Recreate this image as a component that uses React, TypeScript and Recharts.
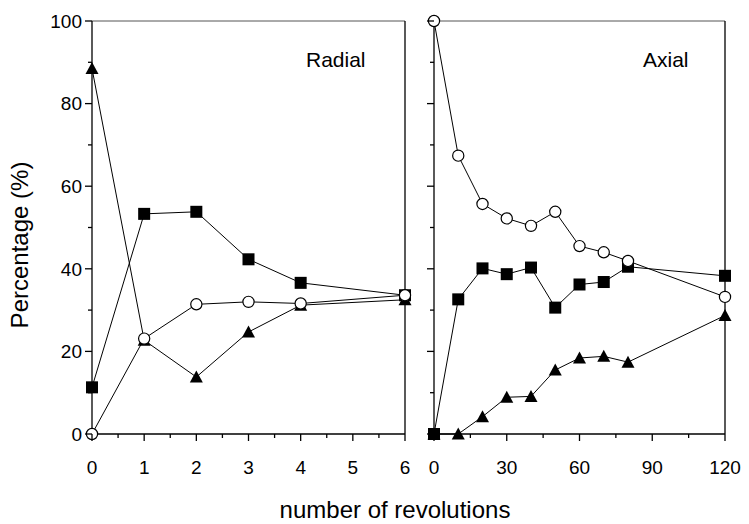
import React from 'react';
import { Line, LineChart, ReferenceLine, XAxis, YAxis } from 'recharts';

// Radial panel (revolutions 0-6)
const radialRevs = [0, 1, 2, 3, 4, 6];
const radialSquare = [11.3, 53.3, 53.8, 42.3, 36.6, 33.6];
const radialCircle = [0, 23.1, 31.4, 32.0, 31.6, 33.6];
const radialTriangle = [88.5, 22.7, 13.8, 24.7, 31.2, 32.5];

// Axial panel (revolutions 0-120)
const axialRevs = [0, 10, 20, 30, 40, 50, 60, 70, 80, 120];
const axialSquare = [0, 32.6, 40.1, 38.7, 40.3, 30.6, 36.2, 36.8, 40.5, 38.3];
const axialCircle = [100, 67.4, 55.7, 52.2, 50.4, 53.8, 45.5, 44.0, 41.9, 33.2];
const axialTriangle = [0, 0, 4.2, 8.9, 9.1, 15.5, 18.4, 18.8, 17.4, 28.7];

// ticks
const yTicks = [0, 10, 20, 30, 40, 50, 60, 70, 80, 90, 100];
const yMajor = [0, 20, 40, 60, 80, 100];
const radialTicks = [0, 0.5, 1, 1.5, 2, 2.5, 3, 3.5, 4, 4.5, 5, 5.5, 6];
const radialMajor = [0, 1, 2, 3, 4, 5, 6];
const axialTicks = [0, 15, 30, 45, 60, 75, 90, 105, 120];
const axialMajor = [0, 30, 60, 90, 120];

const radialData = radialRevs.map((x, i) => ({
  x,
  square: radialSquare[i],
  circle: radialCircle[i],
  triangle: radialTriangle[i]
}));

const axialData = axialRevs.map((x, i) => ({
  x,
  square: axialSquare[i],
  circle: axialCircle[i],
  triangle: axialTriangle[i]
}));

const FONT = '"Liberation Sans", Arial, sans-serif';
const AXIS_W = 1.3;
const Y_MARGIN = 10;

function YTick(props: any) {
  const { x, y, payload, showLabel } = props;
  const v = payload.value;
  const major = yMajor.includes(v);
  const ax = x + Y_MARGIN;
  return (
    <g>
      <line x1={ax - (major ? 7 : 4)} x2={ax} y1={y} y2={y} stroke="#000" strokeWidth={AXIS_W} />
      {showLabel && major && (
        <text x={x} y={y} dy="0.36em" textAnchor="end" fontSize={19} fontFamily={FONT} fill="#000">
          {v}
        </text>
      )}
    </g>
  );
}

function XTick(props: any) {
  const { x, y, payload, majors } = props;
  const v = payload.value;
  const major = majors.includes(v);
  return (
    <g>
      <line x1={x} x2={x} y1={y} y2={y + (major ? 7 : 4)} stroke="#000" strokeWidth={AXIS_W} />
      {major && (
        <text x={x} y={y + 40} textAnchor="middle" fontSize={19} fontFamily={FONT} fill="#000">
          {v}
        </text>
      )}
    </g>
  );
}

const squareDot = (p: any) => (
  <rect key={`s${p.index}`} x={p.cx - 6} y={p.cy - 6} width={12} height={12} fill="#000" />
);
const circleDot = (p: any) => (
  <circle key={`c${p.index}`} cx={p.cx} cy={p.cy} r={5.6} fill="#fff" stroke="#000" strokeWidth={1.2} />
);
const triangleDot = (p: any) => (
  <path
    key={`t${p.index}`}
    d={`M${p.cx},${p.cy - 6.5} L${p.cx + 6.5},${p.cy + 5.5} L${p.cx - 6.5},${p.cy + 5.5} Z`}
    fill="#000"
  />
);

function Panel({
  data,
  width,
  yWidth,
  right,
  xMax,
  ticks,
  majors,
  showYLabels
}: {
  data: any[];
  width: number;
  yWidth: number;
  right: number;
  xMax: number;
  ticks: number[];
  majors: number[];
  showYLabels: boolean;
}) {
  return (
    <LineChart width={width} height={524} data={data} margin={{ top: 21, right, left: 0, bottom: 50 }}>
      <XAxis
        dataKey="x"
        type="number"
        domain={[0, xMax]}
        ticks={ticks}
        interval={0}
        height={40}
        tickSize={0}
        tickMargin={0}
        tickLine={false}
        axisLine={{ stroke: '#000', strokeWidth: AXIS_W }}
        tick={(p: any) => <XTick {...p} majors={majors} />}
      />
      <YAxis
        type="number"
        domain={[0, 100]}
        ticks={yTicks}
        interval={0}
        width={yWidth}
        tickSize={0}
        tickMargin={Y_MARGIN}
        tickLine={false}
        axisLine={{ stroke: '#000', strokeWidth: AXIS_W }}
        tick={(p: any) => <YTick {...p} showLabel={showYLabels} />}
      />
      <ReferenceLine y={100} stroke="#555" strokeWidth={1} />
      <ReferenceLine x={xMax} stroke="#000" strokeWidth={AXIS_W} />
      <Line
        dataKey="triangle"
        type="linear"
        stroke="#000"
        strokeWidth={1}
        dot={triangleDot}
        activeDot={false}
        isAnimationActive={false}
      />
      <Line
        dataKey="square"
        type="linear"
        stroke="#000"
        strokeWidth={1}
        dot={squareDot}
        activeDot={false}
        isAnimationActive={false}
      />
      <Line
        dataKey="circle"
        type="linear"
        stroke="#000"
        strokeWidth={1}
        dot={circleDot}
        activeDot={false}
        isAnimationActive={false}
      />
    </LineChart>
  );
}

export default function App() {
  return (
    <div
      style={{
        position: 'absolute',
        left: 0,
        top: 0,
        width: 749,
        height: 524,
        background: '#fff',
        fontFamily: FONT
      }}
    >
      <div style={{ position: 'absolute', left: 0, top: 0 }}>
        <Panel
          data={radialData}
          width={420}
          yWidth={92}
          right={15}
          xMax={6}
          ticks={radialTicks}
          majors={radialMajor}
          showYLabels
        />
      </div>
      <div style={{ position: 'absolute', left: 420, top: 0 }}>
        <Panel
          data={axialData}
          width={329}
          yWidth={14}
          right={24}
          xMax={120}
          ticks={axialTicks}
          majors={axialMajor}
          showYLabels={false}
        />
      </div>
      <svg
        width={749}
        height={524}
        style={{ position: 'absolute', left: 0, top: 0, pointerEvents: 'none' }}
      >
        <text x={306} y={67} fontSize={21} fontFamily={FONT} fill="#000">
          Radial
        </text>
        <text x={643} y={67} fontSize={21} fontFamily={FONT} fill="#000">
          Axial
        </text>
        <text
          x={28}
          y={245}
          transform="rotate(-90, 28, 245)"
          textAnchor="middle"
          fontSize={24}
          fontFamily={FONT}
          fill="#000"
        >
          Percentage (%)
        </text>
        <text x={395} y={518} textAnchor="middle" fontSize={24} fontFamily={FONT} fill="#000">
          number of revolutions
        </text>
      </svg>
    </div>
  );
}
